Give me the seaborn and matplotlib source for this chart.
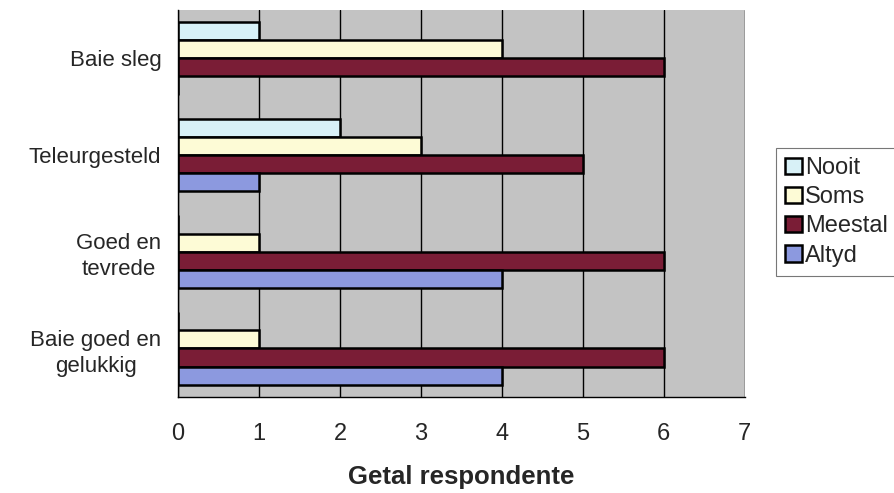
import matplotlib
matplotlib.use("Agg")
import matplotlib.pyplot as plt
import seaborn as sns
import pandas as pd
from matplotlib.ticker import FixedLocator

# data
categories = ["Baie sleg", "Teleurgesteld", "Goed en\ntevrede", "Baie goed en\ngelukkig"]
series = ["Nooit", "Soms", "Meestal", "Altyd"]
nooit = [1, 2, 0, 0]
soms = [4, 3, 1, 1]
meestal = [6, 5, 6, 6]
altyd = [0, 1, 4, 4]
colors = ["#d8f1f7", "#fdfbd6", "#7a1d36", "#8c99df"]

rows = []
for name, vals in zip(series, [nooit, soms, meestal, altyd]):
    for cat, v in zip(categories, vals):
        rows.append({"cat": cat, "series": name, "value": v})
df = pd.DataFrame(rows)

sns.set_style("white")
plt.rcParams["font.family"] = ["Liberation Sans", "DejaVu Sans"]

fig = plt.figure(figsize=(8.95, 4.93), dpi=100)
ax = fig.add_axes([0.199, 0.195, 0.633, 0.785])
ax.set_facecolor("#c3c3c3")

sns.barplot(
    data=df, y="cat", x="value", hue="series",
    order=categories, hue_order=series, palette=colors,
    orient="h", width=0.75, edgecolor="black", linewidth=1.8,
    saturation=1, ax=ax, legend=True
)

ax.set_xlim(0, 7)
ax.set_ylim(3.5, -0.5)
ax.set_xticks(range(0, 8))
ax.tick_params(axis="x", labelsize=17, length=5, width=1, direction="out", pad=14)
ax.grid(axis="x", color="black", linewidth=1)
ax.grid(axis="y", visible=False)
ax.set_axisbelow(True)

# y ticks sit between the categories
ax.tick_params(axis="y", which="major", length=0, labelsize=16, pad=12)
ax.yaxis.set_minor_locator(FixedLocator([-0.5, 0.5, 1.5, 2.5, 3.5]))
ax.tick_params(axis="y", which="minor", length=5, width=1, direction="out")
for lbl in ax.get_yticklabels():
    lbl.set_multialignment("center")
    lbl.set_linespacing(1.3)

for side in ["top", "right"]:
    ax.spines[side].set_visible(False)
for side in ["left", "bottom"]:
    ax.spines[side].set_color("black")
    ax.spines[side].set_linewidth(1)

ax.set_ylabel("")
ax.set_xlabel("Getal respondente", fontsize=18.5, fontweight="bold", labelpad=14)

handles, labels = ax.get_legend_handles_labels()
leg = ax.legend(
    handles, labels, loc="center left", bbox_to_anchor=(1.055, 0.478),
    fontsize=17, frameon=True, fancybox=False, edgecolor="#555555",
    handlelength=0.7, handleheight=0.7, handletextpad=0.15,
    labelspacing=0.3, borderpad=0.4, borderaxespad=0
)
leg.get_frame().set_linewidth(0.8)

fig.savefig("out.png", dpi=100, facecolor="white")
